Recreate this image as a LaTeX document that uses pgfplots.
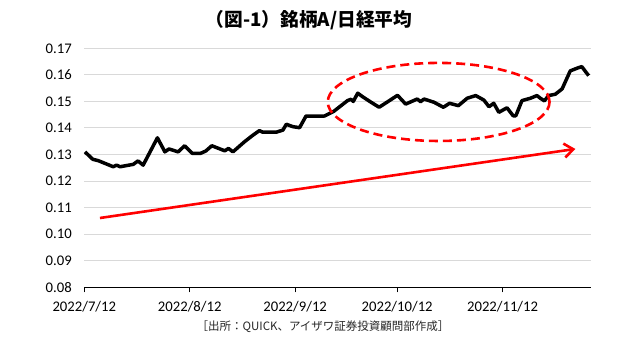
\documentclass[border=0pt]{standalone}
\usepackage{pgfplots}
\pgfplotsset{compat=1.18}
\usepackage{fontspec}
\setmainfont{Carlito}
\newfontfamily\cjk{Noto Sans CJK JP}
\usetikzlibrary{arrows.meta}
\definecolor{gridgray}{HTML}{D9D9D9}
\begin{document}
\begin{tikzpicture}
\begin{axis}[
  scale only axis,
  width=506.7bp, height=239bp,
  xmin=0, xmax=149,
  ymin=0.08, ymax=0.17,
  ytick={0.08,0.09,...,0.171},
  yticklabel style={/pgf/number format/fixed,/pgf/number format/precision=2,/pgf/number format/fixed zerofill, xshift=-9bp},
  /pgf/number format/assume math mode=true,
  xtick={0,31,62,92,123},
  xticklabels={2022/7/12,2022/8/12,2022/9/12,2022/10/12,2022/11/12},
  axis x line*=bottom,
  axis y line*=left,
  y axis line style={draw=none},
  ytick style={draw=none},
  ymajorgrids,
  grid style={gridgray, line width=1bp},
  x axis line style={black, line width=0.8bp, -},
  xtick style={black, line width=0.8bp},
  xtick align=outside,
  major tick length=5bp,
  tick label style={font=\fontsize{14.7bp}{16bp}\selectfont, text=black},
  xticklabel style={yshift=-5bp},
  clip=false,
]
\addplot[black, line width=3.5bp, line join=round] table {
0.2 0.1310
2.5 0.1282
4.1 0.1277
8.5 0.1254
9.5 0.1260
10.5 0.1254
14.4 0.1263
15.8 0.1276
17.3 0.1260
21.5 0.1363
23.7 0.1310
24.9 0.1321
27.6 0.1310
29.5 0.1333
31.8 0.1304
34.1 0.1304
35.7 0.1313
37.5 0.1333
41.3 0.1314
42.4 0.1323
43.7 0.1310
47.1 0.1348
49.6 0.1373
51.5 0.1390
52.5 0.1384
56.4 0.1384
58.4 0.1392
59.4 0.1414
61.3 0.1405
63.3 0.1401
65.2 0.1445
70.6 0.1445
73.3 0.1462
77.4 0.1503
78.4 0.1508
79.1 0.1500
80.4 0.1531
81.8 0.1518
84.3 0.1497
86.7 0.1478
89.6 0.1502
92.1 0.1523
94.5 0.1490
97.9 0.1509
98.9 0.1499
99.9 0.1509
102.8 0.1497
105.6 0.1478
107.4 0.1493
110.0 0.1484
112.6 0.1512
115.1 0.1522
117.5 0.1505
119.0 0.1480
120.4 0.1493
121.9 0.1459
124.3 0.1476
126.1 0.1446
126.9 0.1446
128.7 0.1503
131.2 0.1512
133.1 0.1522
134.1 0.1512
135.3 0.1502
136.5 0.1522
138.5 0.1527
140.5 0.1547
142.9 0.1615
145.3 0.1627
146.3 0.1631
148.3 0.1597
};
\addplot[red, line width=2.6bp, -{Straight Barb[length=9bp,width=14bp]}] coordinates {(4.6,0.1061) (144.4,0.1321)};
\draw[red, line width=2.6bp, dash pattern=on 9bp off 5bp] (axis cs:104.2,0.1498) ellipse [x radius=32.6, y radius=0.0147];
\end{axis}
\node[font=\cjk\bfseries\fontsize{18.7bp}{20bp}\selectfont] at (224.7bp,267.3bp) {（図-1）銘柄A/日経平均};
\node[font=\cjk\fontsize{11.5bp}{13bp}\selectfont, text=black!85] at (238.7bp,-39.7bp) {［出所：QUICK、アイザワ証券投資顧問部作成］};
\pgfresetboundingbox
\path[use as bounding box] (-84.3bp,-63.7bp) rectangle (555.7bp,287.3bp);
\end{tikzpicture}
\end{document}
